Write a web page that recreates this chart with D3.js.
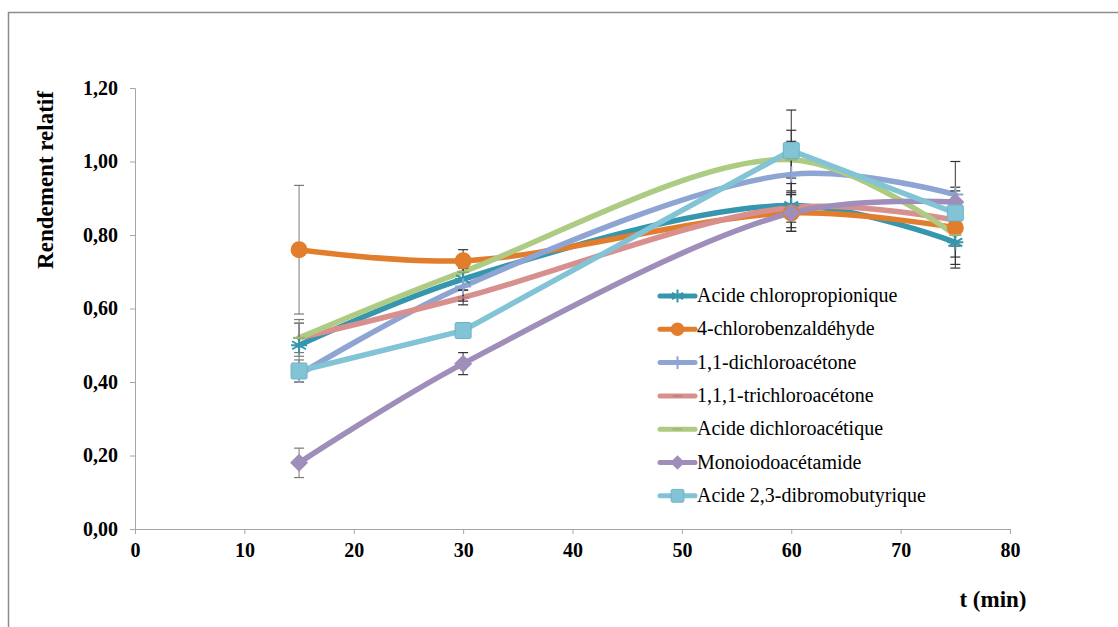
<!DOCTYPE html>
<html>
<head>
<meta charset="utf-8">
<script src="https://cdn.jsdelivr.net/npm/d3@7"></script>
</head>
<body style="margin:0;padding:0;background:#fff">
<svg id="chart" width="1118" height="627" style="display:block"></svg>
<script>
// ---- data ----
const times = [15, 30, 60, 75];
const seriesNames = [
  "Acide chloropropionique",
  "4-chlorobenzaldéhyde",
  "1,1-dichloroacétone",
  "1,1,1-trichloroacétone",
  "Acide dichloroacétique",
  "Monoiodoacétamide",
  "Acide 2,3-dibromobutyrique"
];
const chloropropionique = [0.50, 0.68, 0.88, 0.78];
const chlorobenzaldehyde = [0.76, 0.73, 0.86, 0.82];
const dichloroacetone = [0.42, 0.66, 0.965, 0.91];
const trichloroacetone = [0.52, 0.63, 0.875, 0.84];
const dichloroacetique = [0.52, 0.70, 1.005, 0.80];
const monoiodoacetamide = [0.18, 0.45, 0.86, 0.89];
const dibromobutyrique = [0.43, 0.54, 1.03, 0.86];

const errChloropropionique = [0.06, 0.03, 0.06, 0.07];
const errChlorobenzaldehyde = [0.175, 0.03, 0.05, 0.05];
const errDichloroacetone = [0.02, 0.04, 0.12, 0.02];
const errTrichloroacetone = [0.04, 0.02, 0.04, 0.04];
const errDichloroacetique = [0.05, 0.02, 0.05, 0.06];
const errMonoiodoacetamide = [0.04, 0.03, 0.05, 0.03];
const errDibromobutyrique = [0.03, 0.02, 0.11, 0.14];

const xTicks = [0, 10, 20, 30, 40, 50, 60, 70, 80];
const yTicks = [0, 0.2, 0.4, 0.6, 0.8, 1.0, 1.2];
const yTickLabels = ["0,00", "0,20", "0,40", "0,60", "0,80", "1,00", "1,20"];

const seriesValues = [chloropropionique, chlorobenzaldehyde, dichloroacetone, trichloroacetone, dichloroacetique, monoiodoacetamide, dibromobutyrique];
const seriesErrors = [errChloropropionique, errChlorobenzaldehyde, errDichloroacetone, errTrichloroacetone, errDichloroacetique, errMonoiodoacetamide, errDibromobutyrique];

// ---- styles ----
const colors = ["#3596AE", "#E27D2B", "#8EA5D4", "#D8908F", "#AECB83", "#9F8DBA", "#82C3D6"];
const markers = ["asterisk", "circle", "plus", "dash", "dash", "diamond", "square"];
const smooth = [true, true, true, true, true, true, false];
const FONT = "Liberation Serif";

const svg = d3.select("#chart");

// outer chart border
svg.append("path")
  .attr("d", "M8.5,640 V12.5 H1130")
  .attr("fill", "none").attr("stroke", "#8c8c8c").attr("stroke-width", 1.5);

const x = d3.scaleLinear().domain([0, 80]).range([135, 1010]);
const y = d3.scaleLinear().domain([0, 1.2]).range([529, 88]);

// axes
const yAxis = d3.axisLeft(y).tickValues(yTicks).tickSize(5)
  .tickFormat((d, i) => yTickLabels[i]);
const gy = svg.append("g").attr("transform", "translate(135,0)").call(yAxis)
  .attr("font-family", FONT);
gy.select(".domain").attr("stroke", "#a6a6a6");
gy.selectAll(".tick line").attr("stroke", "#a6a6a6");
gy.selectAll(".tick text").attr("x", -17)
  .attr("font-family", FONT).attr("font-size", 20).attr("font-weight", "bold").attr("fill", "#000");

const xAxis = d3.axisBottom(x).tickValues(xTicks).tickSize(5).tickFormat(d3.format("d"));
const gx = svg.append("g").attr("transform", "translate(0,529)").call(xAxis)
  .attr("font-family", FONT);
gx.select(".domain").attr("stroke", "#a6a6a6");
gx.selectAll(".tick line").attr("stroke", "#a6a6a6");
gx.selectAll(".tick text").attr("y", 14)
  .attr("font-family", FONT).attr("font-size", 20).attr("font-weight", "bold").attr("fill", "#000");

// axis titles
svg.append("text")
  .attr("transform", "translate(53,180) rotate(-90)")
  .attr("text-anchor", "middle")
  .attr("font-family", FONT).attr("font-size", 23).attr("font-weight", "bold")
  .text("Rendement relatif");
svg.append("text")
  .attr("x", 993).attr("y", 607)
  .attr("text-anchor", "middle")
  .attr("font-family", FONT).attr("font-size", 23).attr("font-weight", "bold")
  .text("t (min)");

// lines
const plot = svg.append("g");
seriesValues.forEach((vals, s) => {
  const pts = times.map((t, i) => [t, vals[i]]);
  const line = d3.line()
    .x(d => x(d[0])).y(d => y(d[1]))
    .curve(smooth[s] ? d3.curveCatmullRom.alpha(0.5) : d3.curveLinear);
  plot.append("path")
    .attr("d", line(pts))
    .attr("fill", "none")
    .attr("stroke", colors[s])
    .attr("stroke-width", 5.5)
    .attr("stroke-linejoin", "round")
    .attr("stroke-linecap", "round");
});

// error bars
const eb = svg.append("g");
seriesValues.forEach((vals, s) => {
  times.forEach((t, i) => {
    const e = seriesErrors[s][i];
    const cx = x(t), y1 = y(vals[i] + e), y2 = y(vals[i] - e);
    const col = t === 15 ? "#7a7a7a" : "#333";
    eb.append("line").attr("x1", cx).attr("x2", cx).attr("y1", y1).attr("y2", y2)
      .attr("stroke", col).attr("stroke-width", 1);
    [y1, y2].forEach(yy => eb.append("line")
      .attr("x1", cx - 5).attr("x2", cx + 5).attr("y1", yy).attr("y2", yy)
      .attr("stroke", col).attr("stroke-width", 1.2));
  });
});

// markers
function drawMarker(g, type, cx, cy, color, scale) {
  const k = scale || 1;
  if (type === "circle") {
    g.append("circle").attr("cx", cx).attr("cy", cy).attr("r", 8.5 * k).attr("fill", color);
  } else if (type === "square") {
    g.append("rect").attr("x", cx - 8 * k).attr("y", cy - 8 * k)
      .attr("width", 16 * k).attr("height", 16 * k).attr("rx", 1.5)
      .attr("fill", color).attr("stroke", "#6fb2c6").attr("stroke-width", 1);
  } else if (type === "diamond") {
    const r = 9 * k;
    g.append("path").attr("d", `M${cx},${cy - r}L${cx + r},${cy}L${cx},${cy + r}L${cx - r},${cy}Z`)
      .attr("fill", color);
  } else if (type === "asterisk") {
    const r = 8 * k;
    const p = [];
    [0, 60, 120].forEach(a => {
      const rad = a * Math.PI / 180;
      p.push(`M${cx - r * Math.sin(rad)},${cy - r * Math.cos(rad)}L${cx + r * Math.sin(rad)},${cy + r * Math.cos(rad)}`);
    });
    p.push(`M${cx - r},${cy}L${cx + r},${cy}`);
    g.append("path").attr("d", p.join("")).attr("stroke", color).attr("stroke-width", 2).attr("fill", "none");
  } else if (type === "plus") {
    const r = 8 * k;
    g.append("path").attr("d", `M${cx - r},${cy}L${cx + r},${cy}M${cx},${cy - r}L${cx},${cy + r}`)
      .attr("stroke", color).attr("stroke-width", 2).attr("fill", "none");
  } else if (type === "dash") {
    const r = 6 * k;
    g.append("path").attr("d", `M${cx - r},${cy}L${cx + r},${cy}`)
      .attr("stroke", d3.color(color).darker(0.3)).attr("stroke-width", 2).attr("fill", "none");
  }
}
const mk = svg.append("g");
seriesValues.forEach((vals, s) => {
  times.forEach((t, i) => drawMarker(mk, markers[s], x(t), y(vals[i]), colors[s]));
});

// legend
const legend = svg.append("g");
seriesNames.forEach((name, s) => {
  const ly = 296 + s * 33.3;
  legend.append("line").attr("x1", 660).attr("x2", 695).attr("y1", ly).attr("y2", ly)
    .attr("stroke", colors[s]).attr("stroke-width", 5).attr("stroke-linecap", "round");
  drawMarker(legend, markers[s], 677.5, ly, colors[s], 0.8);
  legend.append("text").attr("x", 697).attr("y", ly + 6)
    .attr("font-family", FONT).attr("font-size", 20).attr("fill", "#000").text(name);
});
</script>
</body>
</html>
